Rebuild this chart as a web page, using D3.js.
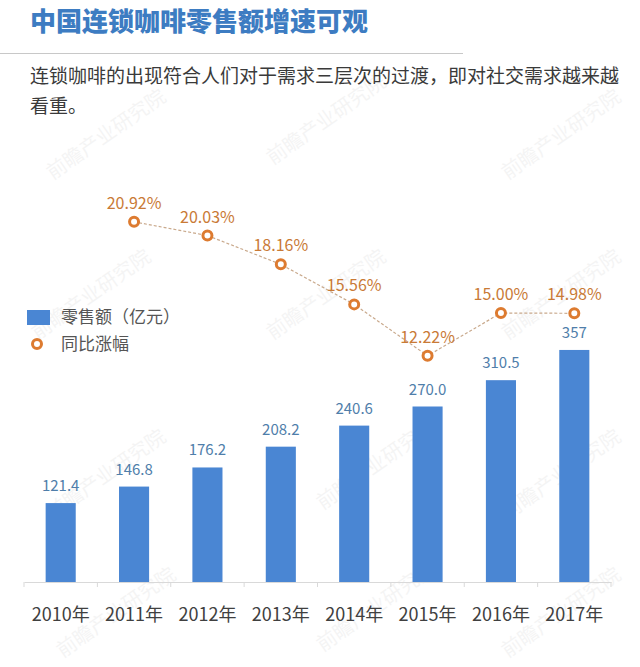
<!DOCTYPE html>
<html><head><meta charset="utf-8">
<script src="https://cdn.jsdelivr.net/npm/d3@7"></script>
<style>
html,body{margin:0;padding:0;background:#fff;}
svg{display:block;font-family:"Noto Sans CJK SC","Noto Sans",sans-serif;}
</style></head>
<body><svg id="c" width="640" height="667"></svg>
<script>
const title = "中国连锁咖啡零售额增速可观";
const subtitleLines = ["连锁咖啡的出现符合人们对于需求三层次的过渡，即对社交需求越来越", "看重。"];
const years = ["2010年","2011年","2012年","2013年","2014年","2015年","2016年","2017年"];
const sales = [121.4, 146.8, 176.2, 208.2, 240.6, 270.0, 310.5, 357];
const salesLabels = ["121.4","146.8","176.2","208.2","240.6","270.0","310.5","357"];
const growth = [null, 20.92, 20.03, 18.16, 15.56, 12.22, 15.00, 14.98];
const growthLabels = ["", "20.92%", "20.03%", "18.16%", "15.56%", "12.22%", "15.00%", "14.98%"];
const legendNames = ["零售额（亿元）", "同比涨幅"];
const watermark = "前瞻产业研究院";

const svg = d3.select("#c");
const blue = "#4a86d3", orange = "#dd7b30";

// faint watermarks
const wm = [[110,140],[330,125],[565,140],[95,300],[330,300],[565,300],[110,480],[380,470],[565,480],[120,618],[380,612],[565,618]];
svg.append("g").selectAll("text").data(wm).join("text")
  .attr("transform", d => `translate(${d[0]},${d[1]}) rotate(-35)`)
  .attr("text-anchor","middle").attr("font-size",20).attr("fill","#000").attr("opacity",0.04)
  .text(watermark);

// header
svg.append("text").attr("x",30).attr("y",31).attr("font-size",26).attr("font-weight",900)
  .attr("fill","#3d7cc2").text(title);
svg.append("line").attr("x1",0).attr("x2",463).attr("y1",53.5).attr("y2",53.5)
  .attr("stroke","#c8c8c8").attr("stroke-width",1);
svg.append("g").selectAll("text").data(subtitleLines).join("text")
  .attr("x",30).attr("y",(d,i)=>83+i*30).attr("font-size",19).attr("fill","#3a3a3a").text(d=>d);

// scales
const x = d3.scaleBand().domain(years).range([24,611]).paddingInner(0.59).paddingOuter(0.295);
const y = d3.scaleLinear().domain([0,400]).range([582,322]);
const y2 = d3.scaleLinear().domain([0,25]).range([544,159]);

// axis
const ax = svg.append("g").attr("transform","translate(0,582)")
  .call(d3.axisBottom(x).tickSize(0).tickPadding(26));
ax.select(".domain").attr("stroke","#d9d9d9");
ax.selectAll("text").attr("font-size",18).attr("fill","#404040")
  .attr("font-family","'Noto Sans CJK SC',sans-serif");
svg.append("g").selectAll("line").data(d3.range(years.length+1)).join("line")
  .attr("x1",i=>24+i*x.step()).attr("x2",i=>24+i*x.step())
  .attr("y1",582).attr("y2",587).attr("stroke","#d9d9d9");

// bars
svg.append("g").selectAll("rect").data(sales).join("rect")
  .attr("x",(d,i)=>x(years[i])).attr("width",x.bandwidth())
  .attr("y",d=>y(d)).attr("height",d=>y(0)-y(d)).attr("fill",blue);
svg.append("g").selectAll("text").data(sales).join("text")
  .attr("x",(d,i)=>x(years[i])+x.bandwidth()/2).attr("y",d=>y(d)-12)
  .attr("text-anchor","middle").attr("font-size",15).attr("fill","#4f7eaa")
  .text((d,i)=>salesLabels[i]);

// growth line
const pts = growth.map((g,i)=>({g,i})).filter(d=>d.g!==null);
const cx = d => x(years[d.i])+x.bandwidth()/2;
svg.append("path").datum(pts)
  .attr("d", d3.line().x(cx).y(d=>y2(d.g)))
  .attr("fill","none").attr("stroke","#c9a98c").attr("stroke-width",1.2).attr("stroke-dasharray","3,2");
svg.append("g").selectAll("circle").data(pts).join("circle")
  .attr("cx",cx).attr("cy",d=>y2(d.g)).attr("r",4.5)
  .attr("fill","#fff").attr("stroke",orange).attr("stroke-width",3);
svg.append("g").selectAll("text").data(pts).join("text")
  .attr("x",cx).attr("y",d=>y2(d.g)-13)
  .attr("text-anchor","middle").attr("font-size",16).attr("fill","#c97a36")
  .text(d=>growthLabels[d.i]);

// legend
const lg = svg.append("g");
lg.append("rect").attr("x",27).attr("y",310).attr("width",23).attr("height",15).attr("fill",blue);
lg.append("circle").attr("cx",37).attr("cy",344).attr("r",4.5).attr("fill","#fff").attr("stroke",orange).attr("stroke-width",3);
lg.selectAll("text").data(legendNames).join("text")
  .attr("x",61).attr("y",(d,i)=>323+i*27).attr("font-size",17).attr("fill","#555").text(d=>d);
</script></body></html>
